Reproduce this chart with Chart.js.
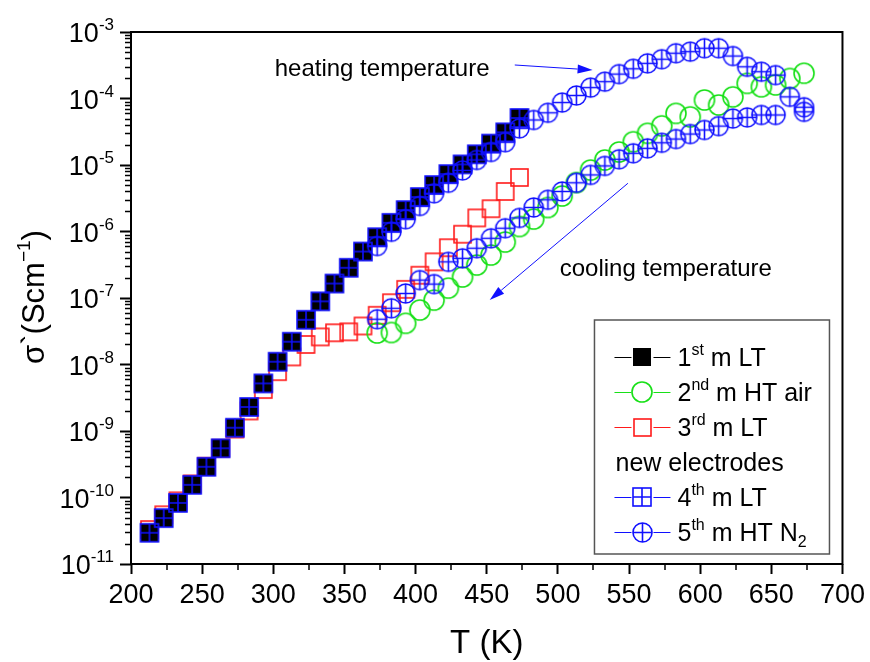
<!DOCTYPE html>
<html>
<head>
<meta charset="utf-8">
<script src="https://cdn.jsdelivr.net/npm/chart.js@4.4.0/dist/chart.umd.min.js"></script>
<style>
  html, body { margin: 0; padding: 0; background: #fff; }
  #wrap { width: 870px; height: 662px; }
</style>
</head>
<body>
<div id="wrap"><canvas id="chart" width="870" height="662"></canvas></div>
<script>
// --- data (T in K, sigma in S/cm) ---
const tempLT = [213, 223, 233, 243, 253, 263, 273, 283, 293, 303, 313, 323, 333, 343,
                353, 363, 373, 383, 393, 403, 413, 423, 433, 443, 453, 463, 473];
const sigma1stLT = [2.95e-11, 4.9e-11, 8.3e-11, 1.55e-10, 2.9e-10, 5.5e-10, 1.12e-9, 2.3e-9,
                    5.2e-9, 1.1e-8, 2.2e-8, 4.7e-8, 8.9e-8, 1.65e-7, 2.85e-7, 5.0e-7, 8.2e-7,
                    1.35e-6, 2.1e-6, 3.3e-6, 5.0e-6, 7.3e-6, 1.02e-5, 1.45e-5, 2.1e-5, 3.1e-5, 5.1e-5];
const sigma3rdLT = [3.3e-11, 5.5e-11, 8.9e-11, 1.6e-10, 2.95e-10, 5.5e-10, 1.07e-9, 2.0e-9,
                    4.2e-9, 7.8e-9, 1.3e-8, 2.0e-8, 2.6e-8, 3.0e-8, 3.1e-8, 3.8e-8, 5.5e-8,
                    8.5e-8, 1.35e-7, 2.2e-7, 3.5e-7, 5.7e-7, 9.1e-7, 1.6e-6, 2.2e-6, 4.0e-6, 6.5e-6];
const sigma4thLT = [2.95e-11, 4.9e-11, 8.3e-11, 1.55e-10, 2.9e-10, 5.5e-10, 1.12e-9, 2.3e-9,
                    5.2e-9, 1.1e-8, 2.2e-8, 4.7e-8, 8.9e-8, 1.65e-7, 2.85e-7, 5.0e-7, 8.2e-7,
                    1.35e-6, 2.1e-6, 3.3e-6, 5.0e-6, 7.3e-6, 1.02e-5, 1.45e-5, 2.1e-5, 3.1e-5, 5.1e-5];

const tempHT = [373, 383, 393, 403, 413, 423, 433, 443, 453, 463, 473, 483, 493, 503, 513, 523,
                533, 543, 553, 563, 573, 583, 593, 603, 613, 623, 633, 643, 653, 663, 673];
const sigma2ndHTair = [2.98e-8, 3.03e-8, 4.17e-8, 6.6e-8, 9.3e-8, 1.41e-7, 2.07e-7, 3.13e-7,
                       4.43e-7, 6.95e-7, 1.19e-6, 1.54e-6, 2.3e-6, 3.42e-6, 5.45e-6, 8.4e-6,
                       1.19e-5, 1.57e-5, 2.24e-5, 3.0e-5, 3.88e-5, 5.98e-5, 5.3e-5, 9.5e-5,
                       8.0e-5, 1.06e-4, 1.69e-4, 1.5e-4, 1.6e-4, 2.0e-4, 2.4e-4];
const sigma5thHeat = [6.05e-7, 9.9e-7, 1.53e-6, 2.42e-6, 3.76e-6, 5.4e-6, 8.3e-6, 1.19e-5,
                      1.57e-5, 2.2e-5, 3.56e-5, 4.75e-5, 6.1e-5, 8.7e-5, 1.11e-4, 1.46e-4,
                      1.79e-4, 2.33e-4, 2.8e-4, 3.38e-4, 3.9e-4, 4.8e-4, 5.06e-4, 5.7e-4,
                      5.7e-4, 4.35e-4, 3.0e-4, 2.53e-4, 2.25e-4, 1.06e-4, 7.4e-5];
const tempCool5th = [673, 653, 643, 633, 623, 613, 603, 593, 583, 573, 563, 553, 543, 533, 523,
                     513, 503, 493, 483, 473, 463, 453, 443, 433, 423, 413, 403, 393, 383, 373];
const sigma5thCool = [6.3e-5, 5.65e-5, 5.65e-5, 5.2e-5, 5.0e-5, 3.85e-5, 3.36e-5, 2.92e-5,
                      2.46e-5, 2.16e-5, 1.78e-5, 1.5e-5, 1.22e-5, 9.7e-6, 7.1e-6, 5.4e-6,
                      4.0e-6, 3.0e-6, 2.3e-6, 1.6e-6, 1.12e-6, 7.9e-7, 5.6e-7, 3.95e-7,
                      3.5e-7, 1.62e-7, 1.86e-7, 1.17e-7, 7.0e-8, 4.8e-8];

const xTicks = [200, 250, 300, 350, 400, 450, 500, 550, 600, 650, 700];
const yDecades = [-11, -10, -9, -8, -7, -6, -5, -4, -3];
const legendLabels = ['1^{st} m LT', '2^{nd} m HT air', '3^{rd} m LT', 'new electrodes',
                      '4^{th} m LT', '5^{th} m HT N_{2}'];
const legendSeries = [0, 1, 2, null, 3, 4];

// annotation anchors in data units [T, sigma]
const heatingLabel = [301, 2.88e-4];
const heatingArrow = [[469.7, 3.19e-4], [524.4, 2.68e-4]];
const coolingLabel = [501.3, 2.82e-7];
const coolingArrow = [[549.2, 5.31e-6], [452.1, 9.33e-8]];

const FONT = '"Liberation Sans", Arial, Helvetica, sans-serif';
const BLUE = '#1010ff', RED = '#ff1a1a', GREEN = '#18e018';

// marker sprites
function marker(kind, color, size, lw) {
  const S = Math.ceil(size + 4);
  const c = document.createElement('canvas');
  c.width = S; c.height = S;
  const g = c.getContext('2d');
  const m = S / 2, h = size / 2;
  g.strokeStyle = color; g.fillStyle = color; g.lineWidth = lw;
  if (kind === 'fillsq') {
    g.fillRect(m - h, m - h, size, size);
  }
  if (kind === 'sq' || kind === 'sqplus') {
    g.strokeRect(m - h, m - h, size, size);
  }
  if (kind === 'circ' || kind === 'circplus') {
    g.beginPath(); g.arc(m, m, h, 0, Math.PI * 2); g.stroke();
  }
  if (kind === 'sqplus' || kind === 'circplus') {
    g.beginPath();
    g.moveTo(m - h, m); g.lineTo(m + h, m);
    g.moveTo(m, m - h); g.lineTo(m, m + h);
    g.stroke();
  }
  return c;
}

const mk1 = marker('fillsq', '#000', 18, 1);
const mk2 = marker('circ', GREEN, 20, 1.6);
const mk3 = marker('sq', RED, 17, 1.6);
const mk4 = marker('sqplus', BLUE, 18, 1.6);
const mk5 = marker('circplus', BLUE, 19, 1.6);

function pts(xs, ys) { return xs.map((x, i) => ({ x: x, y: ys[i] })); }

// rich text helpers: ^{..} superscript, _{..} subscript
function parseRich(s) {
  const out = []; const re = /([\^_])\{([^}]*)\}/g; let last = 0, m;
  while ((m = re.exec(s))) {
    if (m.index > last) out.push({ t: s.slice(last, m.index), k: '' });
    out.push({ t: m[2], k: m[1] });
    last = re.lastIndex;
  }
  if (last < s.length) out.push({ t: s.slice(last), k: '' });
  return out;
}
function segFont(k, size) { return (k ? Math.round(size * 0.62) : size) + 'px ' + FONT; }
function richWidth(ctx, segs, size) {
  let w = 0;
  segs.forEach(s => { ctx.font = segFont(s.k, size); w += ctx.measureText(s.t).width; });
  return w;
}
function drawRich(ctx, text, x, y, size, align) {
  const segs = parseRich(text);
  const w = richWidth(ctx, segs, size);
  let cx = align === 'center' ? x - w / 2 : align === 'right' ? x - w : x;
  ctx.textAlign = 'left'; ctx.textBaseline = 'alphabetic';
  segs.forEach(s => {
    ctx.font = segFont(s.k, size);
    const dy = s.k === '^' ? -size * 0.44 : s.k === '_' ? size * 0.24 : 0;
    ctx.fillText(s.t, cx, y + dy);
    cx += ctx.measureText(s.t).width;
  });
}
function arrow(ctx, x1, y1, x2, y2) {
  const a = Math.atan2(y2 - y1, x2 - x1), L = 15, W = 4.5;
  ctx.save();
  ctx.strokeStyle = BLUE; ctx.fillStyle = BLUE; ctx.lineWidth = 1;
  ctx.beginPath(); ctx.moveTo(x1, y1);
  ctx.lineTo(x2 - L * Math.cos(a), y2 - L * Math.sin(a)); ctx.stroke();
  ctx.beginPath();
  ctx.moveTo(x2, y2);
  ctx.lineTo(x2 - L * Math.cos(a) + W * Math.sin(a), y2 - L * Math.sin(a) - W * Math.cos(a));
  ctx.lineTo(x2 - L * Math.cos(a) - W * Math.sin(a), y2 - L * Math.sin(a) + W * Math.cos(a));
  ctx.closePath(); ctx.fill();
  ctx.restore();
}

const decor = {
  id: 'decor',
  afterDatasetsDraw(chart) {
    const ctx = chart.ctx, a = chart.chartArea;
    const xs = chart.scales.x, ys = chart.scales.y;
    ctx.save();
    // frame
    ctx.strokeStyle = '#000'; ctx.lineWidth = 2;
    ctx.strokeRect(a.left, a.top, a.right - a.left, a.bottom - a.top);
    // minor ticks
    ctx.lineWidth = 1.5; ctx.beginPath();
    for (let v = 225; v < 700; v += 50) {
      const px = Math.round(xs.getPixelForValue(v));
      ctx.moveTo(px, a.bottom); ctx.lineTo(px, a.bottom + 6);
    }
    for (let n = -11; n < -3; n++) {
      for (let k = 2; k <= 9; k++) {
        const py = Math.round(ys.getPixelForValue(k * Math.pow(10, n))) + 0.5;
        ctx.moveTo(a.left, py); ctx.lineTo(a.left - 6, py);
      }
    }
    ctx.stroke();
    // y tick labels 10^n
    ctx.fillStyle = '#000';
    yDecades.forEach(n => {
      const py = ys.getPixelForValue(Math.pow(10, n));
      drawRich(ctx, '10^{' + n + '}', a.left - 17, py + 10, 27, 'right');
    });
    // axis titles
    drawRich(ctx, 'T (K)', (a.left + a.right) / 2, 653, 33, 'center');
    ctx.save();
    ctx.translate(44, 297);
    ctx.rotate(-Math.PI / 2);
    drawRich(ctx, 'σ`(Scm^{−1})', 0, 0, 31, 'center');
    ctx.restore();
    // annotations
    ctx.fillStyle = '#000';
    drawRich(ctx, 'heating temperature', xs.getPixelForValue(heatingLabel[0]),
             ys.getPixelForValue(heatingLabel[1]) + 8, 24, 'left');
    drawRich(ctx, 'cooling temperature', xs.getPixelForValue(coolingLabel[0]),
             ys.getPixelForValue(coolingLabel[1]) + 8, 24, 'left');
    [heatingArrow, coolingArrow].forEach(ar => {
      arrow(ctx, xs.getPixelForValue(ar[0][0]), ys.getPixelForValue(ar[0][1]),
            xs.getPixelForValue(ar[1][0]), ys.getPixelForValue(ar[1][1]));
    });
    // legend
    const bx = a.right - 13 - 235, by = a.bottom - 10 - 234;
    ctx.fillStyle = '#fff';
    ctx.fillRect(bx, by, 235, 234);
    ctx.strokeStyle = '#555'; ctx.lineWidth = 1.5;
    ctx.strokeRect(bx, by, 235, 234);
    legendLabels.forEach((lab, i) => {
      const ry = by + 37 + i * 35;
      const si = legendSeries[i];
      if (si !== null) {
        const ds = chart.data.datasets[si];
        ctx.strokeStyle = ds.legendColor; ctx.lineWidth = 1;
        ctx.beginPath();
        ctx.moveTo(bx + 20, ry + 0.5); ctx.lineTo(bx + 37, ry + 0.5);
        ctx.moveTo(bx + 59, ry + 0.5); ctx.lineTo(bx + 76, ry + 0.5);
        ctx.stroke();
        const img = ds.pointStyle;
        ctx.drawImage(img, Math.round(bx + 48 - img.width / 2), Math.round(ry - img.height / 2));
        ctx.fillStyle = '#000';
        drawRich(ctx, lab, bx + 83, ry + 9, 25, 'left');
      } else {
        ctx.fillStyle = '#000';
        drawRich(ctx, lab, bx + 21, ry + 9, 25, 'left');
      }
    });
    ctx.restore();
  }
};

new Chart(document.getElementById('chart'), {
  type: 'scatter',
  data: {
    datasets: [
      { label: '1st m LT', data: pts(tempLT, sigma1stLT), pointStyle: mk1, pointRadius: 9,
        legendColor: '#000', order: 4 },
      { label: '2nd m HT air', data: pts(tempHT, sigma2ndHTair), pointStyle: mk2, pointRadius: 10,
        legendColor: GREEN, order: 3 },
      { label: '3rd m LT', data: pts(tempLT, sigma3rdLT), pointStyle: mk3, pointRadius: 9,
        legendColor: RED, order: 5 },
      { label: '4th m LT', data: pts(tempLT, sigma4thLT), pointStyle: mk4, pointRadius: 9,
        legendColor: BLUE, order: 2 },
      { label: '5th m HT N2',
        data: pts(tempHT, sigma5thHeat).concat(pts(tempCool5th, sigma5thCool)),
        pointStyle: mk5, pointRadius: 10, legendColor: BLUE, order: 1 }
    ]
  },
  options: {
    responsive: false,
    animation: false,
    layout: { padding: { left: 0, top: 32, right: 25, bottom: 0 } },
    plugins: { legend: { display: false }, tooltip: { enabled: false } },
    scales: {
      x: {
        type: 'linear', min: 200, max: 700,
        afterBuildTicks: s => { s.ticks = xTicks.map(v => ({ value: v })); },
        afterFit: s => { s.height = 98; },
        ticks: { color: '#000', font: { size: 27, family: FONT }, padding: 5, maxRotation: 0 },
        grid: { drawOnChartArea: false, drawTicks: true, tickLength: 10, tickColor: '#000', tickWidth: 2 },
        border: { display: false }
      },
      y: {
        type: 'logarithmic', min: 1e-11, max: 1e-3,
        afterBuildTicks: s => { s.ticks = yDecades.map(n => ({ value: Math.pow(10, n), major: true })); },
        afterFit: s => { s.width = 131; },
        ticks: { display: false },
        grid: { drawOnChartArea: false, drawTicks: true, tickLength: 11, tickColor: '#000', tickWidth: 2 },
        border: { display: false }
      }
    }
  },
  plugins: [decor]
});
</script>
</body>
</html>
